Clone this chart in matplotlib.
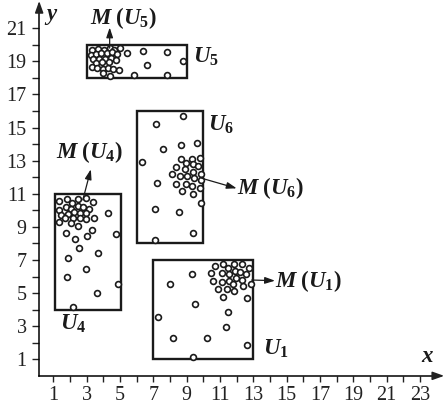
import matplotlib
matplotlib.use("Agg")
import matplotlib.pyplot as plt
from matplotlib.patches import Rectangle

plt.rcParams['font.family'] = ['Liberation Serif', 'DejaVu Serif']
plt.rcParams['mathtext.fontset'] = 'custom'
plt.rcParams['mathtext.it'] = 'Liberation Serif:italic:bold'
plt.rcParams['mathtext.rm'] = 'Liberation Serif:bold'
plt.rcParams['mathtext.bf'] = 'Liberation Serif:bold'

# ---------------- data ----------------
x_major = [1, 3, 5, 7, 9, 11, 13, 15, 17, 19, 21, 23]
y_major = [1, 3, 5, 7, 9, 11, 13, 15, 17, 19, 21]
x_minor = [2, 4, 6, 8, 10, 12, 14, 16, 18, 20, 22]
y_minor = [2, 4, 6, 8, 10, 12, 14, 16, 18, 20]

# region boxes: [x0, x1, y0, y1]
box_u1 = [7.0, 13.0, 1.0, 7.0]
box_u4 = [1.1, 5.05, 4.0, 11.0]
box_u5 = [3.0, 9.0, 18.0, 20.0]
box_u6 = [6.0, 10.0, 8.0, 16.0]

u5_x = [3.30, 3.70, 4.04, 4.40, 4.66, 5.00, 3.24, 3.56, 3.84, 4.24, 4.54, 4.80,
        5.40, 6.36, 7.80, 3.40, 3.76, 4.10, 4.44, 4.76, 3.56, 3.90, 4.36, 6.60,
        8.76, 3.30, 3.60, 3.96, 4.30, 4.60, 4.96, 4.00, 4.40, 5.84, 7.84]
u5_y = [19.69, 19.75, 19.69, 19.79, 19.69, 19.79, 19.39, 19.43, 19.49, 19.49,
        19.55, 19.43, 19.49, 19.65, 19.55, 19.15, 19.15, 19.15, 19.19, 19.08,
        18.88, 18.94, 18.98, 18.78, 19.02, 18.68, 18.58, 18.52, 18.58, 18.54,
        18.48, 18.28, 18.14, 18.18, 18.18]

u6_x = [8.80, 7.16, 7.60, 8.64, 9.60, 6.30, 8.66, 8.96, 9.30, 9.80, 9.36, 9.66,
        8.36, 8.90, 9.40, 8.10, 8.60, 9.04, 9.46, 9.86, 9.84, 8.36, 8.96, 9.34,
        9.80, 8.74, 9.40, 7.24, 9.84, 7.10, 8.52, 9.36, 7.10]
u6_y = [15.72, 15.22, 13.71, 13.95, 14.05, 12.90, 13.10, 12.84, 13.10, 13.14,
        12.78, 12.68, 12.60, 12.48, 12.34, 12.18, 12.08, 12.10, 11.98, 12.20,
        11.83, 11.59, 11.59, 11.49, 11.37, 11.17, 10.97, 11.63, 10.42, 10.06,
        9.92, 8.65, 8.21]

u4_x = [1.34, 1.80, 2.10, 2.46, 2.94, 3.40, 1.34, 1.74, 2.06, 2.46, 2.80, 3.14,
        1.46, 1.90, 2.26, 2.60, 2.94, 1.70, 2.20, 2.60, 2.94, 3.46, 1.34, 2.06,
        2.46, 4.26, 1.74, 3.34, 3.00, 2.30, 4.76, 2.54, 3.66, 1.86, 2.94, 1.80,
        4.86, 3.60, 2.20]
u4_y = [10.57, 10.69, 10.42, 10.69, 10.73, 10.53, 10.02, 10.22, 10.08, 10.28,
        10.22, 10.08, 9.72, 9.76, 9.92, 9.82, 9.82, 9.56, 9.56, 9.52, 9.48, 9.52,
        9.32, 9.22, 9.08, 9.86, 8.65, 8.81, 8.47, 8.27, 8.55, 7.75, 7.40, 7.14,
        6.46, 5.99, 5.53, 5.03, 4.18]

u1_x = [10.70, 11.16, 11.50, 11.84, 12.30, 12.76, 10.44, 11.10, 11.56, 11.90,
        12.20, 12.56, 10.56, 11.10, 11.56, 11.96, 12.30, 11.80, 12.36, 12.84,
        10.90, 11.44, 11.84, 11.20, 12.60, 9.30, 8.00, 9.50, 11.50, 7.30, 11.36,
        8.16, 10.24, 12.60, 9.36]
u1_y = [6.66, 6.74, 6.50, 6.74, 6.74, 6.54, 6.19, 6.19, 6.13, 6.34, 6.30, 6.13,
        5.73, 5.69, 5.73, 5.89, 5.79, 5.53, 5.45, 5.53, 5.25, 5.25, 5.13, 4.78,
        4.68, 6.15, 5.53, 4.32, 3.88, 3.58, 2.97, 2.31, 2.27, 1.86, 1.16]

# ---------------- figure ----------------
fig = plt.figure(figsize=(4.45, 4.13), dpi=100)
ax = fig.add_axes([0, 0, 1, 1])
ax.set_xlim(-2.2, 24.5)
ax.set_ylim(-2.245, 22.71)
ax.patch.set_visible(False)

for s in ['top', 'right']:
    ax.spines[s].set_visible(False)
ax.spines['left'].set_position(('data', 0.15))
ax.spines['bottom'].set_position(('data', 0.0))
ax.spines['left'].set_bounds(0.0, 22.3)
ax.spines['bottom'].set_bounds(0.15, 24.0)
for s in ['left', 'bottom']:
    ax.spines[s].set_linewidth(1.1)

ax.set_xticks(x_major)
ax.set_xticklabels([str(v) for v in x_major])
ax.set_yticks(y_major)
ax.set_yticklabels([str(v) for v in y_major])
ax.set_xticks(x_minor, minor=True)
ax.set_yticks(y_minor, minor=True)
ax.tick_params(axis='both', which='both', direction='out', width=1.0,
               labelsize=14.5, color='#222222', labelcolor='#222222')
ax.tick_params(axis='x', which='both', length=4, pad=3)
ax.tick_params(axis='y', which='both', length=5, pad=4)

# axis arrow heads
ax.annotate('', xy=(24.45, 0.0), xytext=(23.8, 0.0),
            arrowprops=dict(arrowstyle='-|>,head_length=0.7,head_width=0.25',
                            color='#222222', lw=1.1, shrinkA=0, shrinkB=0))
ax.annotate('', xy=(0.15, 22.65), xytext=(0.15, 22.0),
            arrowprops=dict(arrowstyle='-|>,head_length=0.7,head_width=0.25',
                            color='#222222', lw=1.1, shrinkA=0, shrinkB=0))

# boxes
for b in [box_u1, box_u4, box_u5, box_u6]:
    ax.add_patch(Rectangle((b[0], b[2]), b[1] - b[0], b[3] - b[2],
                           fill=False, lw=1.7, ec='#1a1a1a', zorder=2))

# points
for xs, ys in [(u1_x, u1_y), (u4_x, u4_y), (u5_x, u5_y), (u6_x, u6_y)]:
    ax.plot(xs, ys, 'o', ms=4.2, mfc='white', mec='#1a1a1a', mew=1.2,
            zorder=3)

# label arrows
arr = dict(arrowstyle='-|>,head_length=0.6,head_width=0.2', color='#1a1a1a',
           lw=0.9, shrinkA=0, shrinkB=0)
ax.annotate('', xy=(4.38, 21.05), xytext=(4.38, 19.8), arrowprops=arr)
ax.annotate('', xy=(3.25, 12.48), xytext=(2.77, 10.63), arrowprops=arr)
ax.annotate('', xy=(12.0, 11.33), xytext=(9.9, 11.94), arrowprops=arr)
ax.annotate('', xy=(14.3, 5.75), xytext=(12.9, 5.79), arrowprops=arr)

fs = 16.5
tc = '#1a1a1a'
ax.text(5.18, 21.62, r'$M\;(U_5)$', ha='center', va='center', fontsize=fs, color=tc)
ax.text(3.14, 13.54, r'$M\;(U_4)$', ha='center', va='center', fontsize=fs, color=tc)
ax.text(12.0, 11.33, r'$M\;(U_6)$', ha='left', va='center', fontsize=fs, color=tc)
ax.text(14.3, 5.75, r'$M\;(U_1)$', ha='left', va='center', fontsize=fs, color=tc)
ax.text(9.4, 19.26, r'$U_5$', ha='left', va='center', fontsize=fs, color=tc)
ax.text(10.3, 15.16, r'$U_6$', ha='left', va='center', fontsize=fs, color=tc)
ax.text(1.4, 3.17, r'$U_4$', ha='left', va='center', fontsize=fs, color=tc)
ax.text(13.56, 1.66, r'$U_1$', ha='left', va='center', fontsize=fs, color=tc)
ax.text(23.48, 1.14, r'$x$', ha='center', va='center', fontsize=fs, color=tc)
ax.text(0.86, 21.7, r'$y$', ha='center', va='center', fontsize=fs, color=tc)

fig.savefig('out.png', dpi=100)
